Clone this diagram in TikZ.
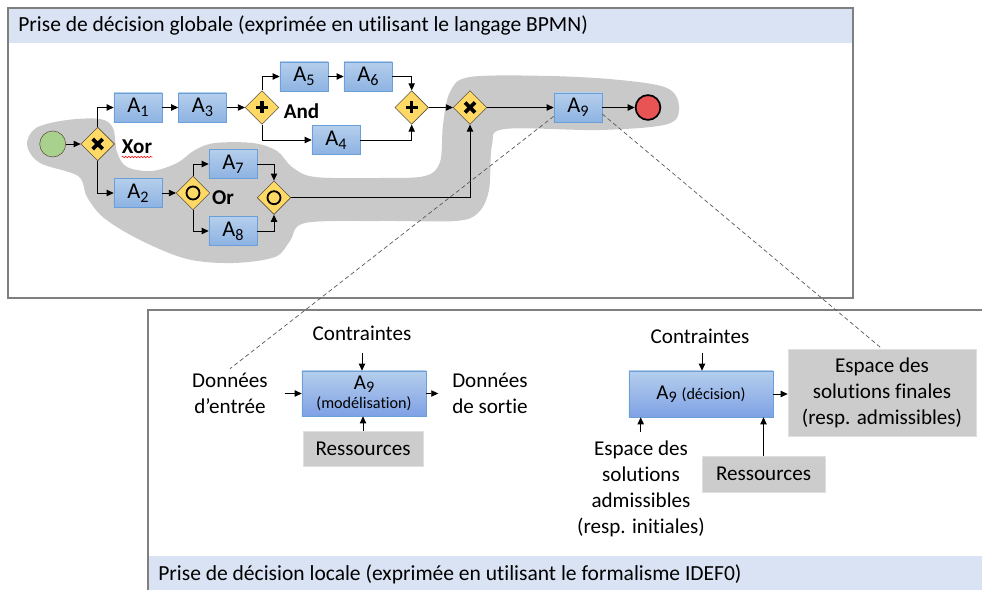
\documentclass[tikz,border=0pt]{standalone}
\usepackage{fontspec}
\setmainfont{Carlito}[Ligatures={NoCommon}]
\usetikzlibrary{positioning, arrows.meta, calc, shapes.geometric, decorations.pathmorphing}

\definecolor{bandblue}{HTML}{DAE3F3}
\definecolor{framegray}{HTML}{7F7F7F}
\definecolor{blobgray}{HTML}{C9C9C9}
\definecolor{boxtop}{HTML}{B5CEEC}
\definecolor{boxbot}{HTML}{8DB3E2}
\definecolor{boxline}{HTML}{6A9FD8}
\definecolor{gatefill}{HTML}{FFD966}
\definecolor{gateline}{HTML}{5A5040}
\definecolor{startgreen}{HTML}{A9D18E}
\definecolor{endred}{HTML}{E85454}

\newcommand{\actsub}[1]{\raisebox{-0.35ex}{\fontsize{11.5}{12}\selectfont #1}}

\begin{document}
\begin{tikzpicture}[
  x=0.025cm, y=-0.025cm,
  actbox/.style={
    rectangle, draw=boxline, top color=boxtop, bottom color=boxbot,
    minimum width=1.2cm, minimum height=0.725cm, inner sep=0pt,
    font=\fontsize{16}{17}\selectfont
  },
  gateway/.style={
    diamond, draw=gateline, fill=gatefill, aspect=1, inner sep=0pt,
    minimum width=0.84cm, minimum height=0.84cm
  },
  xorgate/.style={gateway, path picture={
    \draw[black, line width=2.6pt]
      ([shift={(-5,-5)}]path picture bounding box.center) -- ([shift={(5,5)}]path picture bounding box.center)
      ([shift={(-5,5)}]path picture bounding box.center) -- ([shift={(5,-5)}]path picture bounding box.center);}},
  andgate/.style={gateway, path picture={
    \draw[black, line width=2.4pt]
      ([shift={(-6,0)}]path picture bounding box.center) -- ([shift={(6,0)}]path picture bounding box.center)
      ([shift={(0,-6)}]path picture bounding box.center) -- ([shift={(0,6)}]path picture bounding box.center);}},
  orgate/.style={gateway, path picture={
    \draw[black, line width=1.3pt] (path picture bounding box.center) circle[radius=6.5];}},
  gatelbl/.style={font=\bfseries\fontsize{15}{17}\selectfont, inner sep=0pt},
  flow/.style={-{Triangle[length=5pt,width=4.5pt]}, line width=0.6pt},
  idef/.style={-{Triangle[length=5pt,width=4.5pt]}, line width=0.6pt},
  greybox/.style={rectangle, fill=gray!40, draw=gray!25, inner sep=0pt,
    align=center, font=\fontsize{15}{18.5}\selectfont},
  idefbox/.style={rectangle, draw=boxline, top color=boxtop, bottom color=boxbot!90!blue,
    inner sep=0pt, align=center, font=\fontsize{15}{15}\selectfont},
  lbl/.style={align=center, inner sep=0pt, font=\fontsize{15}{18.5}\selectfont},
  band/.style={anchor=west, inner sep=0pt, font=\fontsize{15.3}{17}\selectfont},
  link/.style={dashed, dash pattern=on 3pt off 2pt, gray!70!black, line width=0.5pt},
]
\useasboundingbox (0,0) rectangle (982,590);

%% ── Frames ──────────────────────────────────────────────────────────────────
\fill[bandblue] (8,8) rectangle (853,43);
\draw[framegray, line width=1.2pt] (8,8) rectangle (853,298);
\node[band] (globtitle) at (18,25) {Prise de décision globale (exprimée en utilisant le langage BPMN)};

\fill[bandblue] (148,556) rectangle (982,590);
\draw[framegray, line width=1.2pt] (148,590) -- (148,310) -- (982,310);
\node[band] (loctitle) at (158,574) {Prise de décision locale (exprimée en utilisant le formalisme IDEF0)};

%% ── Chosen path (grey) ──────────────────────────────────────────────────────
\fill[blobgray] plot[smooth cycle, tension=0.55] coordinates {
  (27,145) (36,128) (67,120) (100,119) (113,128) (117,152) (127,167) (152,171)
  (177,163) (195,150) (215,143) (253,143) (277,151) (292,167) (315,177)
  (380,178) (425,176) (440,162) (443,125) (450,92) (470,77) (550,76)
  (620,80) (667,88) (679,106) (668,124) (600,130) (505,129) (492,145)
  (489,190) (478,213) (455,221) (380,221) (305,223) (290,241) (275,257)
  (233,263) (187,259) (140,240) (104,218) (87,197) (78,176) (40,163)
};

%% ── BPMN process ────────────────────────────────────────────────────────────
\node[circle, draw=gateline, fill=startgreen, minimum size=0.65cm, inner sep=0pt] (start) at (52.7,144) {};
\node[xorgate] (gx1) at (97.7,144) {};
\node[gatelbl] (xorlbl) at (137,147) {Xor};
\draw[red, line width=0.4pt, decorate, decoration={snake, amplitude=0.5pt, segment length=2.2pt}]
  ([yshift=-2pt]xorlbl.south west) -- ([yshift=-2pt]xorlbl.south east);

\node[actbox] (a1) at (138,107.5) {A\actsub{1}};
\node[actbox] (a3) at (202.5,107.5) {A\actsub{3}};
\node[andgate] (gp1) at (262,107.5) {};
\node[gatelbl] (andlbl) at (301.5,111) {And};
\node[actbox] (a5) at (304,76.5) {A\actsub{5}};
\node[actbox] (a6) at (368,76.5) {A\actsub{6}};
\node[actbox] (a4) at (336,140) {A\actsub{4}};
\node[andgate] (gp2) at (411.7,107.5) {};
\node[xorgate] (gx2) at (470,107.5) {};
\node[actbox] (a9) at (578,107.5) {A\actsub{9}};
\node[circle, draw=black, line width=1.2pt, fill=endred, minimum size=0.62cm, inner sep=0pt] (end) at (648,107.5) {};

\node[actbox] (a2) at (138,193) {A\actsub{2}};
\node[orgate] (go1) at (193,193) {};
\node[gatelbl] (orlbl) at (223,197.5) {Or};
\node[actbox] (a7) at (233,164) {A\actsub{7}};
\node[actbox] (a8) at (233,231) {A\actsub{8}};
\node[orgate] (go2) at (274,197.7) {};

\draw[flow] (start) -- (gx1);
\draw[flow] (gx1.north) |- (a1.west);
\draw[flow] (gx1.south) |- (a2.west);
\draw[flow] (a1) -- (a3);
\draw[flow] (a3) -- (gp1);
\draw[flow] (gp1.north) |- (a5.west);
\draw[flow] (gp1.south) |- (a4.west);
\draw[flow] (a5) -- (a6);
\draw[flow] (a6.east) -| (gp2.north);
\draw[flow] (a4.east) -| (gp2.south);
\draw[flow] (gp2) -- (gx2);
\draw[flow] (gx2) -- (a9);
\draw[flow] (a9) -- (end);
\draw[flow] (a2) -- (go1);
\draw[flow] (go1.north) |- (a7.west);
\draw[flow] (go1.south) |- (a8.west);
\draw[flow] (a7.east) -| (go2.north);
\draw[flow] (a8.east) -| (go2.south);
\draw[flow] (go2.east) -| (gx2.south);

%% ── IDEF0 : modelling ───────────────────────────────────────────────────────
\node[idefbox, minimum width=3.1cm, minimum height=1.125cm] (m9) at (364,393.5) {%
  A\actsub{9}\\[-1pt]{\fontsize{11.5}{12}\selectfont(modélisation)}};
\node[lbl] (contr1) at (362,333) {Contraintes};
\node[lbl] (entree) at (230,393.5) {Données\\d’entrée};
\node[lbl] (sortie) at (490,393.5) {Données\\de sortie};
\node[greybox, minimum width=3cm, minimum height=0.875cm] (res1) at (363,448.5) {Ressources};

\coordinate (c1top) at ($(m9.north)+(-2,-18)$);
\coordinate (in1) at ($(m9.west)+(-17,0)$);
\coordinate (out1) at ($(m9.east)+(12,0)$);
\draw[idef] (c1top) -- (c1top |- m9.north);
\draw[idef] (in1) -- (m9.west);
\draw[idef] (m9.east) -- (out1);
\draw[idef] (res1.north) -- (res1.north |- m9.south);

%% ── IDEF0 : decision ────────────────────────────────────────────────────────
\node[idefbox, minimum width=3.6cm, minimum height=1.15cm] (d9) at (701,394) {%
  A\actsub{9} {\fontsize{11.5}{12}\selectfont(décision)}};
\node[lbl] (contr2) at (700,336) {Contraintes};
\node[greybox, minimum width=4.7cm, minimum height=2.175cm] (finales) at (882,392.5) {%
  Espace des\\solutions finales\\(resp. admissibles)};
\node[lbl, font=\fontsize{15}{18.4}\selectfont] (admis) at (641,489) {%
  Espace des\\solutions\\admissibles\\(resp. initiales)};
\node[greybox, minimum width=3.075cm, minimum height=0.9cm] (res2) at (763.5,474) {Ressources};

\coordinate (c2top) at ($(d9.north)+(1,-18)$);
\coordinate (sol0) at ($(d9.south west)+(12,15)$);
\draw[idef] (c2top) -- (c2top |- d9.north);
\draw[idef] (d9.east) -- (finales.west |- d9.east);
\draw[idef] (sol0) -- (sol0 |- d9.south);
\draw[idef] (res2.north) -- (res2.north |- d9.south);

%% ── Zoom links ──────────────────────────────────────────────────────────────
\draw[link] (a9.200) -- ([yshift=3pt]entree.north);
\draw[link] (a9.-15) -- (finales.north);

\end{tikzpicture}
\end{document}
